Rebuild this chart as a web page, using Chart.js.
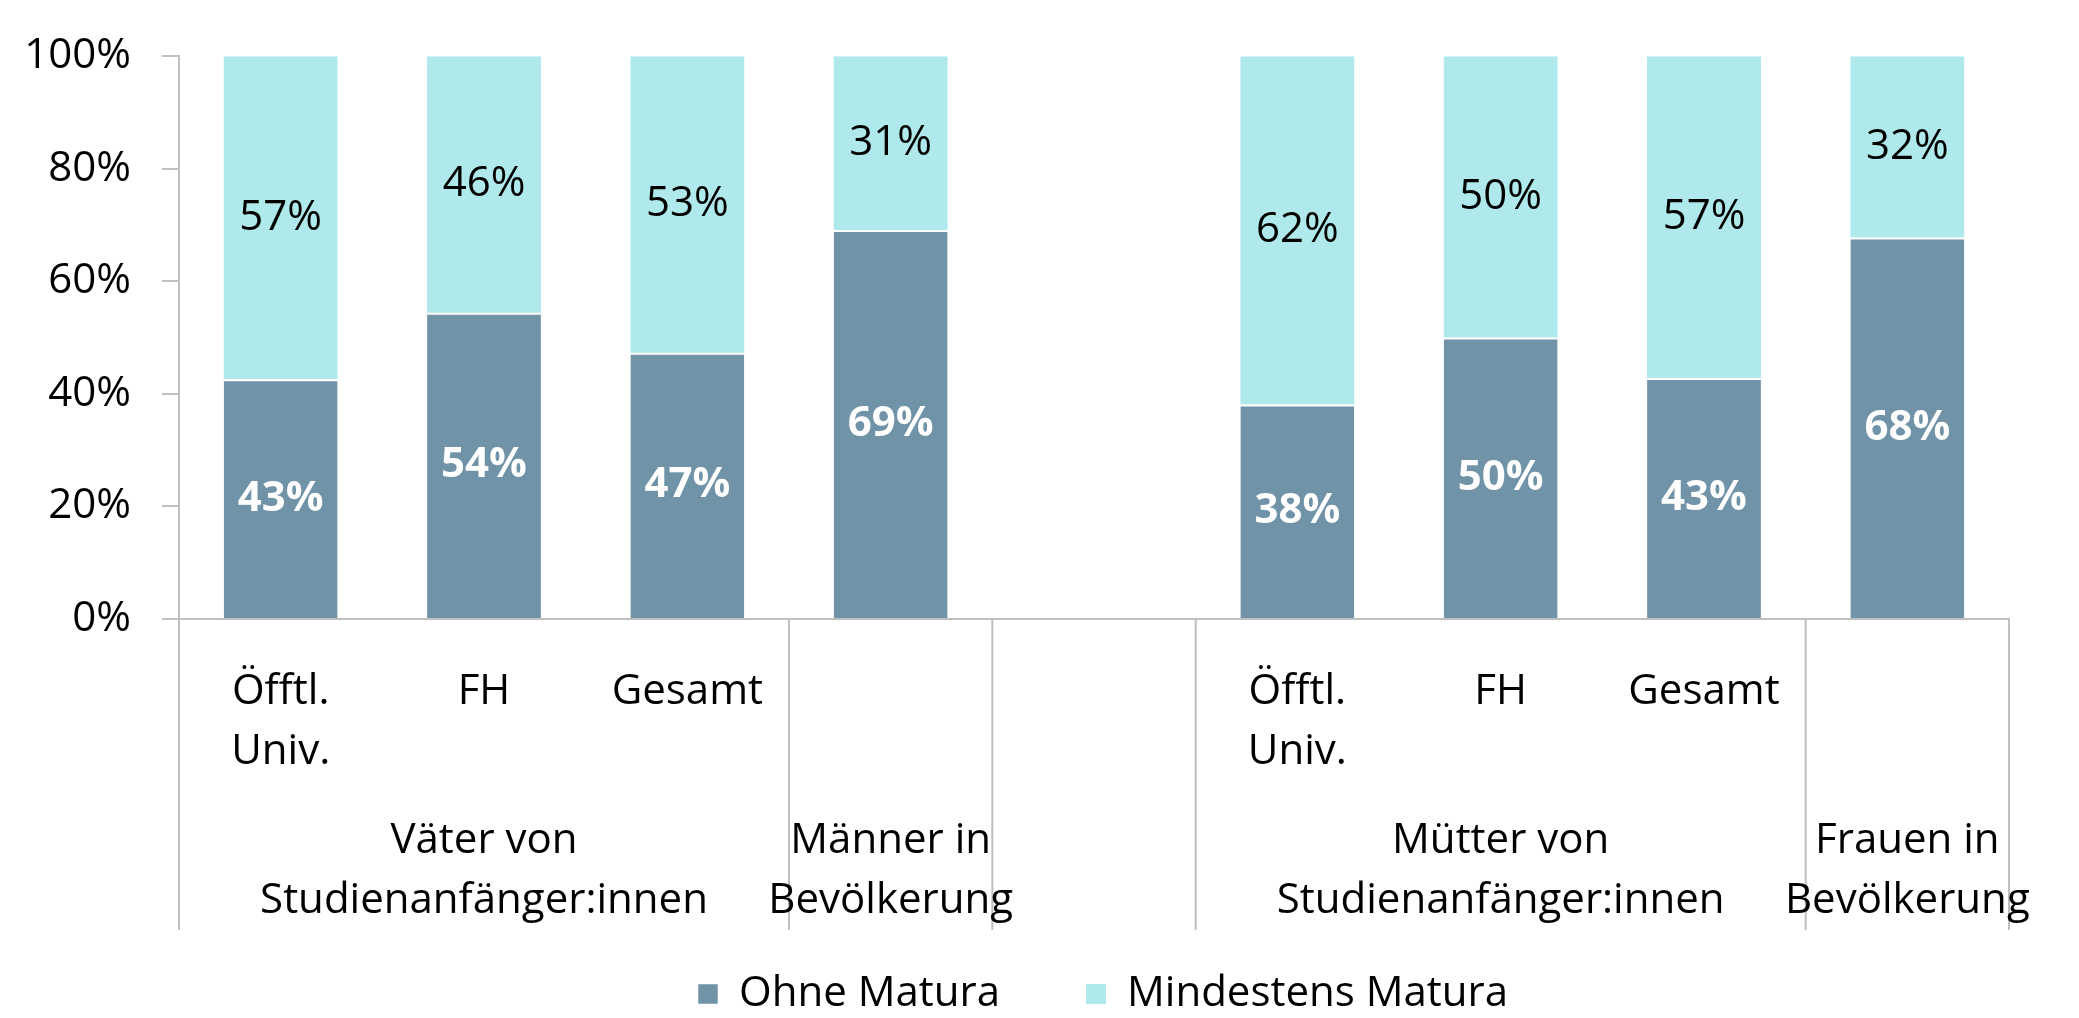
<!DOCTYPE html>
<html lang="de">
<head>
<meta charset="utf-8">
<title>Matura der Eltern</title>
<script src="https://cdn.jsdelivr.net/npm/chart.js@4.4.1/dist/chart.umd.min.js"></script>
<style>
  html, body { margin: 0; padding: 0; background: #fff; }
  #wrap { width: 2079px; height: 1018px; }
</style>
</head>
<body>
<div id="wrap"><canvas id="maturaChart" width="2079" height="1018"></canvas></div>
<script>
// untere Ebene der x-Achse
var kategorien = [['Öfftl.', 'Univ.'], 'FH', 'Gesamt', '', '', ['Öfftl.', 'Univ.'], 'FH', 'Gesamt', ''];
// obere Ebene, mit Anzahl Kategorien je Gruppe
var gruppen = [['Väter von', 'Studienanfänger:innen'], ['Männer in', 'Bevölkerung'], [], ['Mütter von', 'Studienanfänger:innen'], ['Frauen in', 'Bevölkerung']];
var gruppenBreite = [3, 1, 1, 3, 1];
// Werte in %
var ohneMatura = [42.6, 54.4, 47.3, 69.1, null, 38.1, 50.0, 42.8, 67.8];
var mindestensMatura = [57.4, 45.6, 52.7, 30.9, null, 61.9, 50.0, 57.2, 32.2];
var yTicks = [0, 20, 40, 60, 80, 100];

window.onload = function () {

    var schrift = '"Open Sans", Lato, sans-serif';
    var grau = '#bfbfbf';

    // Datenbeschriftungen mitten in die Segmente
    var werteLabels = {
        id: 'werteLabels',
        afterDatasetsDraw: function (chart) {
            var ctx = chart.ctx;
            ctx.save();
            ctx.textAlign = 'center';
            ctx.textBaseline = 'middle';
            chart.data.datasets.forEach(function (ds, d) {
                var meta = chart.getDatasetMeta(d);
                ctx.fillStyle = d === 0 ? '#ffffff' : '#000000';
                ctx.font = (d === 0 ? 'bold ' : '') + '42px ' + schrift;
                meta.data.forEach(function (bar, i) {
                    if (ds.data[i] == null) return;
                    ctx.fillText(Math.round(ds.data[i]) + '%', bar.x, (bar.y + bar.base) / 2);
                });
            });
            ctx.restore();
        }
    };

    // zweite Ebene der Achse + Trennlinien, Legende auf Diagrammmitte
    var ebenen = {
        id: 'ebenen',
        afterLayout: function (chart) {
            var lg = chart.legend, area = chart.chartArea;
            var shift = (area.left + area.right) / 2 + 9 - (lg.left + lg.right) / 2;
            lg.left += shift;
            lg.right += shift;
        },
        afterDraw: function (chart) {
            var ctx = chart.ctx, x = chart.scales.x, area = chart.chartArea;
            var schritt = x.getPixelForValue(1) - x.getPixelForValue(0);
            var erste = x.getPixelForValue(0);
            var grenzen = [0];
            gruppenBreite.forEach(function (b) { grenzen.push(grenzen[grenzen.length - 1] + b); });
            ctx.save();
            ctx.strokeStyle = grau;
            ctx.lineWidth = 2;
            grenzen.forEach(function (g) {
                var px = erste + (g - 0.5) * schritt;
                ctx.beginPath();
                ctx.moveTo(px, area.bottom);
                ctx.lineTo(px, area.bottom + 311);
                ctx.stroke();
            });
            ctx.fillStyle = '#000000';
            ctx.font = '42px ' + schrift;
            ctx.textAlign = 'center';
            ctx.textBaseline = 'alphabetic';
            gruppen.forEach(function (zeilen, i) {
                var mitte = erste + ((grenzen[i] + grenzen[i + 1]) / 2 - 0.5) * schritt;
                zeilen.forEach(function (t, j) {
                    ctx.fillText(t, mitte, area.bottom + 234 + j * 60);
                });
            });
            ctx.restore();
        }
    };

    var ctx = document.getElementById('maturaChart');
    var config = {
        type: 'bar',
        data: {
            labels: kategorien,
            datasets: [{
                label: 'Ohne Matura',
                data: ohneMatura,
                backgroundColor: '#7093a7',
                borderColor: '#ffffff',
                borderWidth: { top: 2, left: 0, right: 0, bottom: 0 }
            }, {
                label: 'Mindestens Matura',
                data: mindestensMatura,
                backgroundColor: '#afe9eb',
                borderWidth: 0
            }]
        },
        options: {
            responsive: false,
            animation: false,
            events: [],
            datasets: { bar: { categoryPercentage: 1, barPercentage: 0.56 } },
            layout: { padding: { top: 56, left: 25, right: 70, bottom: -7 } },
            plugins: {
                tooltip: { enabled: false },
                legend: {
                    position: 'bottom',
                    labels: {
                        boxWidth: 20,
                        boxHeight: 20,
                        padding: 86,
                        color: '#000000',
                        font: { family: schrift, size: 42 }
                    }
                }
            },
            scales: {
                x: {
                    stacked: true,
                    grid: { display: false },
                    border: { display: true, color: grau, width: 2 },
                    ticks: {
                        color: '#000000',
                        font: { family: schrift, size: 42, lineHeight: 1.43 },
                        padding: 35,
                        maxRotation: 0,
                        autoSkip: false
                    },
                    afterFit: function (scale) { scale.height = 268; }
                },
                y: {
                    stacked: true,
                    min: 0,
                    max: 100,
                    afterBuildTicks: function (scale) {
                        scale.ticks = yTicks.map(function (v) { return { value: v }; });
                    },
                    afterFit: function (scale) { scale.width = 154; },
                    grid: { drawOnChartArea: false, color: grau, lineWidth: 2, tickLength: 17 },
                    border: { color: grau, width: 2 },
                    ticks: {
                        color: '#000000',
                        font: { family: schrift, size: 42 },
                        padding: 31,
                        callback: function (v) { return v + '%'; }
                    }
                }
            }
        },
        plugins: [werteLabels, ebenen]
    };

    window.maturaChart = new Chart(ctx, config);
};
</script>
</body>
</html>
